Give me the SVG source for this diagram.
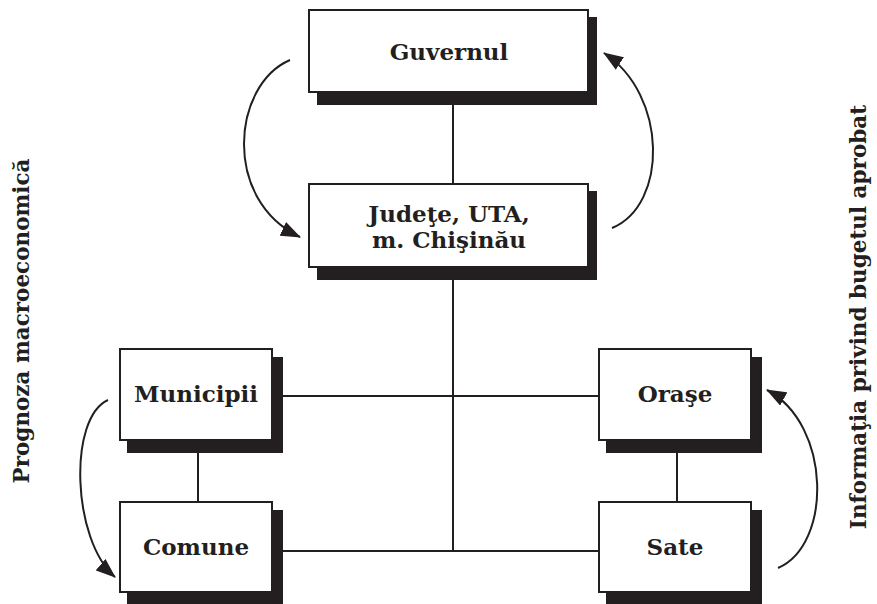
<svg xmlns="http://www.w3.org/2000/svg" width="877" height="604" viewBox="0 0 877 604">
  <style>
    .box { fill: #ffffff; stroke: #231f20; stroke-width: 2; }
    .shadow { fill: #231f20; }
    .link { stroke: #231f20; stroke-width: 2; fill: none; }
    .flow { stroke: #231f20; stroke-width: 2; fill: none; marker-end: url(#head); }
    .label { font-family: "DejaVu Serif", "Liberation Serif", serif; font-weight: bold; font-size: 23px; fill: #231f20; text-anchor: middle; }
    .side { font-family: "DejaVu Serif", "Liberation Serif", serif; font-weight: bold; font-size: 21.5px; fill: #231f20; text-anchor: middle; }
  </style>
  <defs>
    <marker id="head" viewBox="0 0 20 15" refX="19" refY="7.5" markerWidth="20" markerHeight="15" markerUnits="userSpaceOnUse" orient="auto">
      <path d="M0,0 L20,7.5 L0,15 Z" fill="#231f20"/>
    </marker>
  </defs>
  <rect width="877" height="604" fill="#ffffff"/>

  <!-- hierarchy links and information flows -->
  <g id="connectors">
    <line class="link" x1="453" y1="92" x2="453" y2="184"/>
    <line class="link" x1="453" y1="267" x2="453" y2="551"/>
    <line class="link" x1="272" y1="396" x2="599" y2="396"/>
    <line class="link" x1="272" y1="551" x2="599" y2="551"/>
    <line class="link" x1="198" y1="440" x2="198" y2="502"/>
    <line class="link" x1="677" y1="440" x2="677" y2="502"/>
    <path class="flow" d="M290,60 C232,85 222,200 300,237"/>
    <path class="flow" d="M612,228 C668,205 668,95 604,53"/>
    <path class="flow" d="M108,400 C68,418 72,540 115,577"/>
    <path class="flow" d="M778,568 C832,545 832,425 767,390"/>
  </g>

  <g id="guvernul">
    <rect class="shadow" x="317" y="17" width="280" height="88"/>
    <rect class="box" x="309" y="10" width="279" height="82"/>
    <text class="label" x="449" y="60">Guvernul</text>
  </g>

  <g id="judete">
    <rect class="shadow" x="317" y="191" width="280" height="89"/>
    <rect class="box" x="309" y="184" width="279" height="83"/>
    <text class="label" x="449" y="222">Judeţe, UTA,</text>
    <text class="label" x="449" y="248">m. Chişinău</text>
  </g>

  <g id="municipii">
    <rect class="shadow" x="127" y="357" width="156" height="96"/>
    <rect class="box" x="120" y="349" width="152" height="91"/>
    <text class="label" x="196" y="402">Municipii</text>
  </g>

  <g id="comune">
    <rect class="shadow" x="127" y="510" width="156" height="96"/>
    <rect class="box" x="120" y="502" width="152" height="90"/>
    <text class="label" x="196" y="555">Comune</text>
  </g>

  <g id="orase">
    <rect class="shadow" x="606" y="357" width="156" height="96"/>
    <rect class="box" x="599" y="349" width="152" height="91"/>
    <text class="label" x="675" y="402">Oraşe</text>
  </g>

  <g id="sate">
    <rect class="shadow" x="606" y="510" width="156" height="96"/>
    <rect class="box" x="599" y="502" width="152" height="90"/>
    <text class="label" x="675" y="555">Sate</text>
  </g>

  <text class="side" transform="translate(29,321) rotate(-90)">Prognoza macroeconomică</text>
  <text class="side" transform="translate(866,317) rotate(-90)">Informaţia privind bugetul aprobat</text>
</svg>
